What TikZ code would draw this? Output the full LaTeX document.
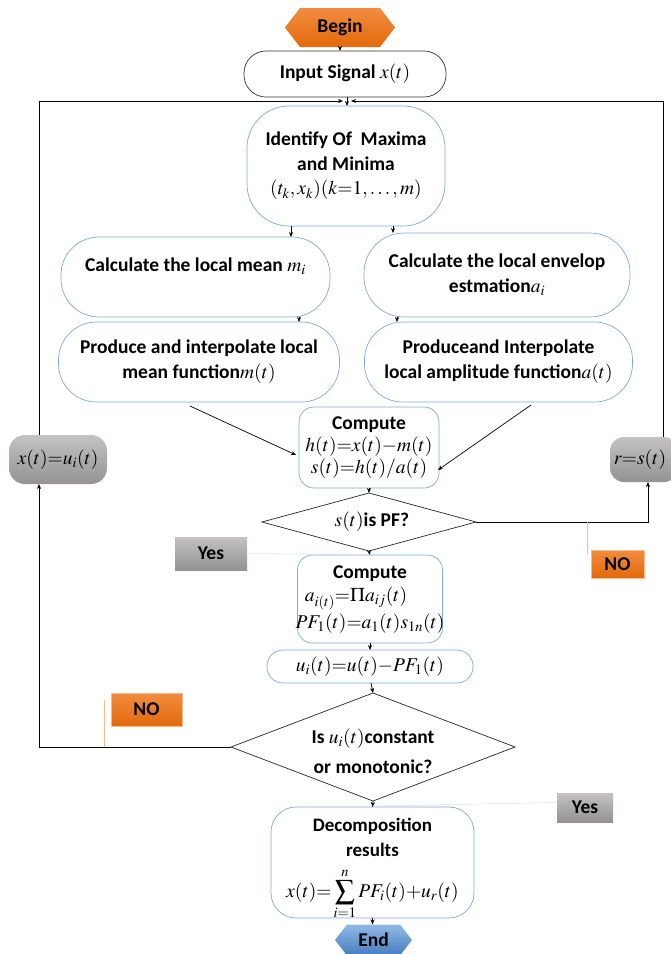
\documentclass[tikz,border=0pt]{standalone}
\usepackage{mathptmx}
\usepackage[no-math]{fontspec}
\setmainfont{Carlito}
\usetikzlibrary{shapes.geometric,arrows.meta,calc}
\definecolor{bblue}{RGB}{125,170,220}
\definecolor{orgtop}{RGB}{242,140,64}
\definecolor{orgbot}{RGB}{226,106,10}
\definecolor{graytop}{RGB}{196,194,194}
\definecolor{graybot}{RGB}{148,146,146}
\definecolor{bluetop}{RGB}{145,185,230}
\definecolor{bluebot}{RGB}{70,125,190}
\newcommand{\mth}[1]{{\fontsize{19.5}{22}\selectfont$#1$}}
\begin{document}
\begin{tikzpicture}[x=1pt,y=-1pt,
  every node/.style={inner sep=0pt,outer sep=0pt},
  bx/.style={draw=bblue,line width=0.7pt,fill=white,align=center,font=\bfseries\fontsize{19.5}{25}\selectfont},
  txt/.style={align=center,font=\bfseries\fontsize{19.5}{25}\selectfont},
  arr/.style={-{Stealth[length=5pt,width=4pt]},line width=0.7pt},
  loopl/.style={line width=1pt},
  dia/.style={diamond,draw=black!85,line width=0.7pt,fill=white},
  graybox/.style={top color=graytop,bottom color=graybot,draw=none,align=center,font=\bfseries\fontsize{19.5}{25}\selectfont},
  orgbox/.style={top color=orgtop,bottom color=orgbot,draw=orgtop!60,line width=0.4pt,align=center,font=\bfseries\fontsize{19.5}{25}\selectfont},
  thinl/.style={line width=0.5pt}]
\useasboundingbox (0,0) rectangle (671,954);
\fill[white] (0,0) rectangle (671,954);

% Begin
\node[minimum width=110pt,minimum height=39pt] (begin) at (340,27.5) {};
\shade[top color=orgtop,bottom color=orgbot] (begin.west) -- ([xshift=15pt]begin.north west) -- ([xshift=-15pt]begin.north east) -- (begin.east) -- ([xshift=-15pt]begin.south east) -- ([xshift=15pt]begin.south west) -- cycle;
\node[txt] (begint) at (begin.center) {Begin};

% Input
\node[draw=black!80,line width=0.7pt,fill=white,rounded corners=22pt,minimum width=202pt,minimum height=46pt,txt] (input) at (345,74) {Input Signal \mth{x(t)}};

% Identify
\node[bx,rounded corners=42pt,minimum width=198pt,minimum height=120pt] (ident) at (346,166) {Identify Of\ \ Maxima\\and Minima\\[-1pt]\mth{(t_k,x_k)(k{=}1,\ldots,m)}};

% Calculate
\node[bx,rounded corners=38pt,minimum width=269pt,minimum height=80pt] (cmean) at (195.5,277) {};
\node[txt] (cmeant) at (195.5,266) {Calculate the local mean \mth{m_i}};
\node[bx,rounded corners=40pt,minimum width=266pt,minimum height=84pt] (cenv) at (497,275) {Calculate the local envelop\\estmation\mth{a_i}};

% Produce
\node[bx,rounded corners=38pt,minimum width=281pt,minimum height=80pt] (prodl) at (199,362) {Produce and interpolate local\\mean function\mth{m(t)}};
\node[bx,rounded corners=38pt,minimum width=268pt,minimum height=80pt] (prodr) at (498.5,362) {Produceand Interpolate\\local amplitude function\mth{a(t)}};

% Compute 1
\node[bx,rounded corners=15pt,minimum width=140pt,minimum height=81pt,font=\bfseries\fontsize{19.5}{21.5}\selectfont] (comp1) at (369,447.5) {Compute\\[1pt]\mth{h(t){=}x(t){-}m(t)}\\\mth{s(t){=}h(t)/a(t)}};

% Diamond 1
\node[dia,minimum width=214pt,minimum height=58pt] (dia1) at (369,522) {};
\node[txt] (dia1t) at (372,522) {\mth{s(t)}is PF?};

% Compute 2
\node[bx,rounded corners=15pt,minimum width=145pt,minimum height=88pt] (comp2) at (370,599) {};
\node[txt,font=\bfseries\fontsize{19.5}{23}\selectfont] (comp2t) at (370,600) {Compute\\\mth{a_{i(t)}{=}\Pi a_{ij}(t)\hspace{28pt}}\\[4pt]\mth{PF_1(t){=}a_1(t)s_{1n}(t)}};

% u oval
\node[bx,rounded corners=16pt,minimum width=206pt,minimum height=33pt] (uoval) at (370,666.5) {\mth{u_i(t){=}u(t){-}PF_1(t)}};

% Diamond 2
\node[dia,minimum width=284pt,minimum height=108pt] (dia2) at (373,747) {};
\node[txt,font=\bfseries\fontsize{19.5}{30}\selectfont] (dia2t) at (373,751) {Is \mth{u_i(t)}constant\\or monotonic?};

% Decomposition
\node[bx,rounded corners=25pt,minimum width=203pt,minimum height=111pt] (decomp) at (372.5,862.5) {};
\node[txt,font=\bfseries\fontsize{19}{25}\selectfont] (decompt) at (372.5,837) {Decomposition\\results};
\node[txt] (decompf) at (372.5,894) {\mth{\displaystyle x(t){=}\sum_{i=1}^{n}PF_i(t){+}u_r(t)}};

% End
\node[minimum width=77pt,minimum height=31pt] (end) at (373.5,940) {};
\shade[top color=bluetop,bottom color=bluebot] (end.west) -- ([xshift=12pt]end.north west) -- ([xshift=-12pt]end.north east) -- (end.east) -- ([xshift=-12pt]end.south east) -- ([xshift=12pt]end.south west) -- cycle;
\node[txt] (endt) at (end.center) {End};

% Gray side boxes
\node[graybox,rounded corners=16pt,minimum width=98pt,minimum height=49pt] (xbox) at (58,459.5) {\mth{x(t){=}u_i(t)}};
\node[graybox,rounded corners=14pt,minimum width=68pt,minimum height=45pt] (rbox) at (644,459.5) {};
\node[txt] (rboxt) at (640,460) {\mth{r{=}s(t)}};

% Yes / No labels
\node[graybox,minimum width=72pt,minimum height=33pt] (yes1) at (211,553.5) {Yes};
\node[orgbox,minimum width=53pt,minimum height=28pt] (no1) at (617.5,564) {NO};
\node[orgbox,minimum width=71pt,minimum height=33pt] (no2) at (146.5,709.5) {NO};
\node[graybox,minimum width=56pt,minimum height=29pt] (yes2) at (585,807.5) {Yes};

% coordinates for loops
\coordinate (ltop) at (39,101);
\coordinate (rtop) at (663,101);
\coordinate (ltip) at (343,101);
\coordinate (rtip) at (351,101);
\coordinate (rbot) at (648,482);

% main connectors
\draw[arr] (begin.south) -- (begin.south |- input.north);
\draw[arr] ([xshift=2pt]input.south) -- ([xshift=2pt]input.south |- ident.north);
\draw[arr] ([xshift=-55pt]ident.south) -- ([xshift=-55pt]ident.south |- cmean.north);
\draw[arr] ([xshift=47pt]ident.south) -- ([xshift=47pt]ident.south |- cenv.north);
\draw[arr] ([xshift=103.5pt]cmean.south) -- ([xshift=103.5pt]cmean.south |- prodl.north);
\draw[arr] ([xshift=-100pt]cenv.south) -- ([xshift=-100pt]cenv.south |- prodr.north);
\draw[arr] ([xshift=-9pt,yshift=-4pt]prodl.south) -- ([xshift=-3pt,yshift=-7.5pt]comp1.west);
\draw[arr] ([xshift=32.5pt,yshift=-3pt]prodr.south) -- ([xshift=-1pt,yshift=-22.5pt]comp1.east);
\draw[arr] (comp1.south) -- (dia1.north);
\draw[arr] (dia1.south) -- (comp2.north);
\draw[arr] (comp2.south) -- (uoval.south |- uoval.north);
\draw[arr] ([xshift=1pt]uoval.south) -- (dia2.north);
\draw[arr] (dia2.south) -- (decomp.north);
\draw[arr] (decomp.south) -- (decomp.south |- end.north);

% loops
\draw[loopl,arr] (xbox.north -| ltop) -- (ltop) -- (ltip);
\draw[loopl,arr] (rbox.north -| rtop) -- (rtop) -- (rtip);
\draw[loopl,arr] (dia2.west) -- (dia2.west -| ltop) -- (xbox.south -| ltop);
\draw[loopl,arr] (dia1.east) -- (dia1.east -| rbot) -- (rbot);

% label lines
\draw[thinl,draw=gray!25] (yes1.east) -- ([yshift=-1pt]yes1.east -| dia1.south);
\draw[thinl,draw=gray!25] ([yshift=-5pt]dia2.south) -- ([yshift=5pt]yes2.west);
\draw[thinl,draw=orgtop!60] ([xshift=-4pt,yshift=-4pt]no1.north west) -- ([xshift=-4pt]no1.north west |- dia1.east);
\draw[thinl,draw=orgtop!60] ([xshift=-7pt,yshift=-7pt]no2.north west) -- ([xshift=-7pt]no2.north west |- dia2.west);
\end{tikzpicture}
\end{document}
